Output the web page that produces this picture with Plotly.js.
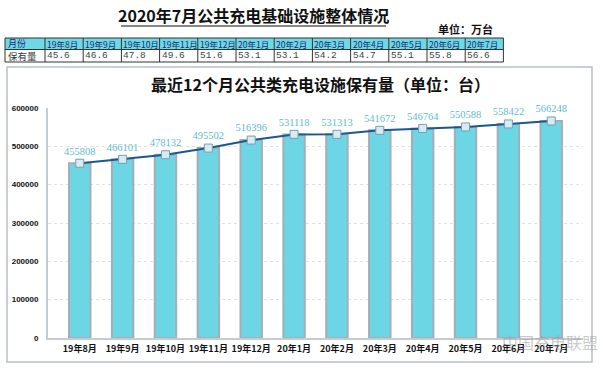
<!DOCTYPE html>
<html><head><meta charset="utf-8">
<script src="https://cdn.plot.ly/plotly-3.0.1.min.js"></script>
<style>html,body{margin:0;padding:0;background:#fff;}#chart{width:603px;height:373px;}</style>
</head><body><div id="chart"></div>
<script>
const months = ["19年8月","19年9月","19年10月","19年11月","19年12月","20年1月","20年2月","20年3月","20年4月","20年5月","20年6月","20年7月"];
const counts = [455808,466101,478132,495502,516396,531118,531313,541672,546764,550588,558422,566248];
const tableValues = ["45.6","46.6","47.8","49.6","51.6","53.1","53.1","54.2","54.7","55.1","55.8","56.6"];
const yTicks = [0,100000,200000,300000,400000,500000,600000];

const W = 603, H = 373;
const px = x => x / W;
const py = y => 1 - y / H;

const shapes = [];
const annotations = [];

// table geometry
const tX0 = 5, tFirstW = 40, colW = 38.2, tY0 = 38, tY1 = 49.5, tY2 = 62;
const tX1 = tX0 + tFirstW + colW * months.length;
shapes.push({type:'rect', xref:'paper', yref:'paper', x0:px(tX0), x1:px(tX1), y0:py(tY1), y1:py(tY0), fillcolor:'#6fd8e6', line:{width:0}, layer:'below'});
shapes.push({type:'rect', xref:'paper', yref:'paper', x0:px(tX0), x1:px(tX1), y0:py(tY2), y1:py(tY0), fillcolor:'rgba(0,0,0,0)', line:{color:'#333', width:1}});
shapes.push({type:'line', xref:'paper', yref:'paper', x0:px(tX0), x1:px(tX1), y0:py(tY1), y1:py(tY1), line:{color:'#333', width:1}});
const colX = i => tX0 + tFirstW + colW * i;
for (let i = 0; i < months.length; i++) {
  shapes.push({type:'line', xref:'paper', yref:'paper', x0:px(colX(i)), x1:px(colX(i)), y0:py(tY0), y1:py(tY2), line:{color:'#333', width:1}});
}
const cellFont = {family:'Noto Sans CJK SC, sans-serif', size:8.5, color:'#1a2a6a'};
const valFont = {family:'Liberation Mono, DejaVu Sans Mono, monospace', size:9.5, color:'#444'};
annotations.push({xref:'paper', yref:'paper', x:px(tX0+2), y:py((tY0+tY1)/2), text:'月份', showarrow:false, xanchor:'left', yanchor:'middle', borderpad:0, font:{family:'Noto Sans CJK SC, sans-serif', size:9, color:'#1a2a6a'}});
annotations.push({xref:'paper', yref:'paper', x:px(tX0+2), y:py((tY1+tY2)/2), text:'保有量', showarrow:false, xanchor:'left', yanchor:'middle', borderpad:0, font:{family:'Noto Sans CJK SC, sans-serif', size:9.5, color:'#333'}});
months.forEach((m, i) => {
  annotations.push({xref:'paper', yref:'paper', x:px(colX(i)+1), y:py((tY0+tY1)/2), text:m, showarrow:false, xanchor:'left', yanchor:'middle', borderpad:0, font:cellFont});
  annotations.push({xref:'paper', yref:'paper', x:px(colX(i)+1), y:py((tY1+tY2)/2), text:tableValues[i], showarrow:false, xanchor:'left', yanchor:'middle', borderpad:0, font:valFont});
});

// main title + underline
annotations.push({xref:'paper', yref:'paper', x:px(253), y:py(15), text:'<b>2020年7月公共充电基础设施整体情况</b>', showarrow:false, xanchor:'center', yanchor:'middle', font:{family:'Noto Sans CJK SC, sans-serif', size:16, color:'#111'}});
shapes.push({type:'line', xref:'paper', yref:'paper', x0:px(121), x1:px(386), y0:py(26), y1:py(26), line:{color:'#111', width:1.2}});
annotations.push({xref:'paper', yref:'paper', x:px(495), y:py(29), text:'<b>单位：万台</b>', showarrow:false, xanchor:'right', yanchor:'middle', font:{family:'Noto Sans CJK SC, sans-serif', size:11, color:'#111'}});

// chart frame
shapes.push({type:'rect', xref:'paper', yref:'paper', x0:px(7), x1:px(592), y0:py(362), y1:py(67), line:{color:'#b8c0c8', width:1.5}, fillcolor:'rgba(0,0,0,0)'});

// chart title
annotations.push({xref:'paper', yref:'paper', x:px(320), y:py(84), text:'<b>最近12个月公共类充电设施保有量（单位：台）</b>', showarrow:false, xanchor:'center', yanchor:'middle', font:{family:'Noto Sans CJK SC, sans-serif', size:16, color:'#111'}});

// watermark
annotations.push({xref:'paper', yref:'paper', x:px(600), y:py(342), text:'中国充电联盟', showarrow:false, xanchor:'right', yanchor:'middle', font:{family:'Noto Sans CJK SC, sans-serif', size:16, color:'rgba(150,150,150,0.5)'}});

const traces = [
  {type:'bar', x:months, y:counts, width:0.5, marker:{color:'#6dd6e4', line:{color:'#a2aeb8', width:2}}, hoverinfo:'skip', showlegend:false},
  {type:'scatter', x:months, y:counts, mode:'lines+markers+text', text:counts.map(String), textposition:'top center',
   textfont:{family:'Liberation Serif, serif', size:10.5, color:'#5fbccc'},
   line:{color:'#1b5790', width:2}, marker:{symbol:'square', size:8, color:'#d4ecf2', line:{color:'#7d9bb0', width:1}}, showlegend:false, cliponaxis:false}
];

const layout = {
  width: W, height: H,
  margin:{l:0, r:0, t:0, b:0},
  paper_bgcolor:'#fff', plot_bgcolor:'#fff',
  xaxis:{domain:[px(48), px(583)], anchor:'y', type:'category', showgrid:false, zeroline:false,
         showline:true, linecolor:'#c4ccd2', linewidth:1.5, ticks:'', ticklabelstandoff:2,
         tickfont:{family:'Noto Sans CJK SC, sans-serif', size:9, color:'#111', weight:'bold'}},
  yaxis:{domain:[py(338), py(108)], anchor:'x', range:[0,600000], tickvals:yTicks, ticktext:yTicks.map(String),
         showgrid:true, gridcolor:'#dde2e6', griddash:'dot', gridwidth:1, zeroline:false,
         showline:true, linecolor:'#c4ccd2', linewidth:2, ticks:'', ticklabelstandoff:6,
         tickfont:{family:'Liberation Sans, Arial, sans-serif', size:8, color:'#111', weight:'bold'}},
  shapes: shapes,
  annotations: annotations
};

Plotly.newPlot('chart', traces, layout, {staticPlot:true, displayModeBar:false});
</script>
</body></html>
